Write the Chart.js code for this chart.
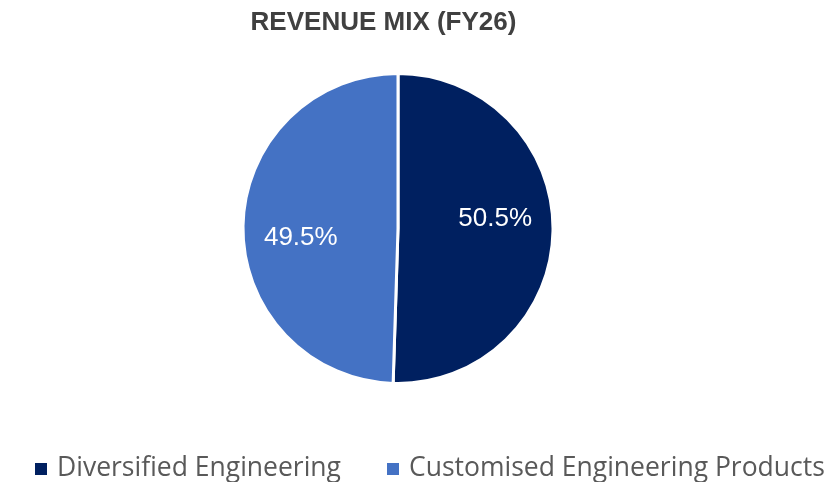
<!DOCTYPE html>
<html>
<head>
<meta charset="utf-8">
<script src="https://cdn.jsdelivr.net/npm/chart.js@4"></script>
<style>
  html, body { margin: 0; padding: 0; background: #fff; overflow: hidden; }
  #wrap { width: 831px; height: 482px; position: relative; }
  #legend {
    position: absolute; left: 35px; top: 449px;
    display: flex; align-items: center; gap: 46px;
    font-family: "Open Sans", sans-serif; font-size: 26.5px; color: #595959;
    line-height: 34px; white-space: nowrap;
  }
  #legend .item { display: flex; align-items: center; }
  #legend .box { width: 12px; height: 12px; margin-right: 10px; margin-top: 5px; }
</style>
</head>
<body>
<div id="wrap">
  <canvas id="mix"></canvas>
  <div id="legend"></div>
</div>
<script>
const chartTitle = 'REVENUE MIX (FY26)';
const segments = ['Diversified Engineering', 'Customised Engineering Products'];
const shares = [50.5, 49.5];
const segmentColors = ['#002060', '#4472C4'];

// title drawn by hand, it sits a bit left of the pie in the original
const titlePlugin = {
  id: 'fixedTitle',
  afterDraw(chart) {
    const ctx = chart.ctx;
    ctx.save();
    ctx.font = 'bold 26px "Liberation Sans", Arial, sans-serif';
    ctx.fillStyle = '#404040';
    ctx.textAlign = 'center';
    ctx.textBaseline = 'middle';
    ctx.fillText(chartTitle, chart.width / 2 - 32, 23);
    ctx.restore();
  }
};

// percent labels inside the slices
const sliceLabels = {
  id: 'sliceLabels',
  afterDatasetsDraw(chart) {
    const ctx = chart.ctx;
    const meta = chart.getDatasetMeta(0);
    ctx.save();
    ctx.font = '26px "Liberation Sans", Arial, sans-serif';
    ctx.fillStyle = '#ffffff';
    ctx.textAlign = 'center';
    ctx.textBaseline = 'middle';
    meta.data.forEach((arc, i) => {
      const p = arc.getProps(['x', 'y', 'startAngle', 'endAngle', 'outerRadius'], true);
      const mid = (p.startAngle + p.endAngle) / 2 - 0.11;
      const r = p.outerRadius * 0.63;
      ctx.fillText(shares[i].toFixed(1) + '%', p.x + Math.cos(mid) * r, p.y + Math.sin(mid) * r);
    });
    ctx.restore();
  }
};

const chart = new Chart(document.getElementById('mix'), {
  type: 'pie',
  data: {
    labels: segments,
    datasets: [{
      data: shares,
      backgroundColor: segmentColors,
      borderColor: '#ffffff',
      borderWidth: 3
    }]
  },
  options: {
    responsive: true,
    maintainAspectRatio: false,
    animation: false,
    layout: { padding: { top: 72, left: 0, right: 35, bottom: 97 } },
    plugins: {
      title: { display: false },
      tooltip: { enabled: false },
      legend: { display: false }
    }
  },
  plugins: [titlePlugin, sliceLabels]
});

// html legend from the chart's own legend items
const legendDiv = document.getElementById('legend');
chart.options.plugins.legend.labels.generateLabels(chart).forEach(item => {
  const el = document.createElement('div');
  el.className = 'item';
  el.innerHTML = `<span class="box" style="background:${item.fillStyle}"></span><span>${item.text}</span>`;
  legendDiv.appendChild(el);
});
</script>
</body>
</html>
